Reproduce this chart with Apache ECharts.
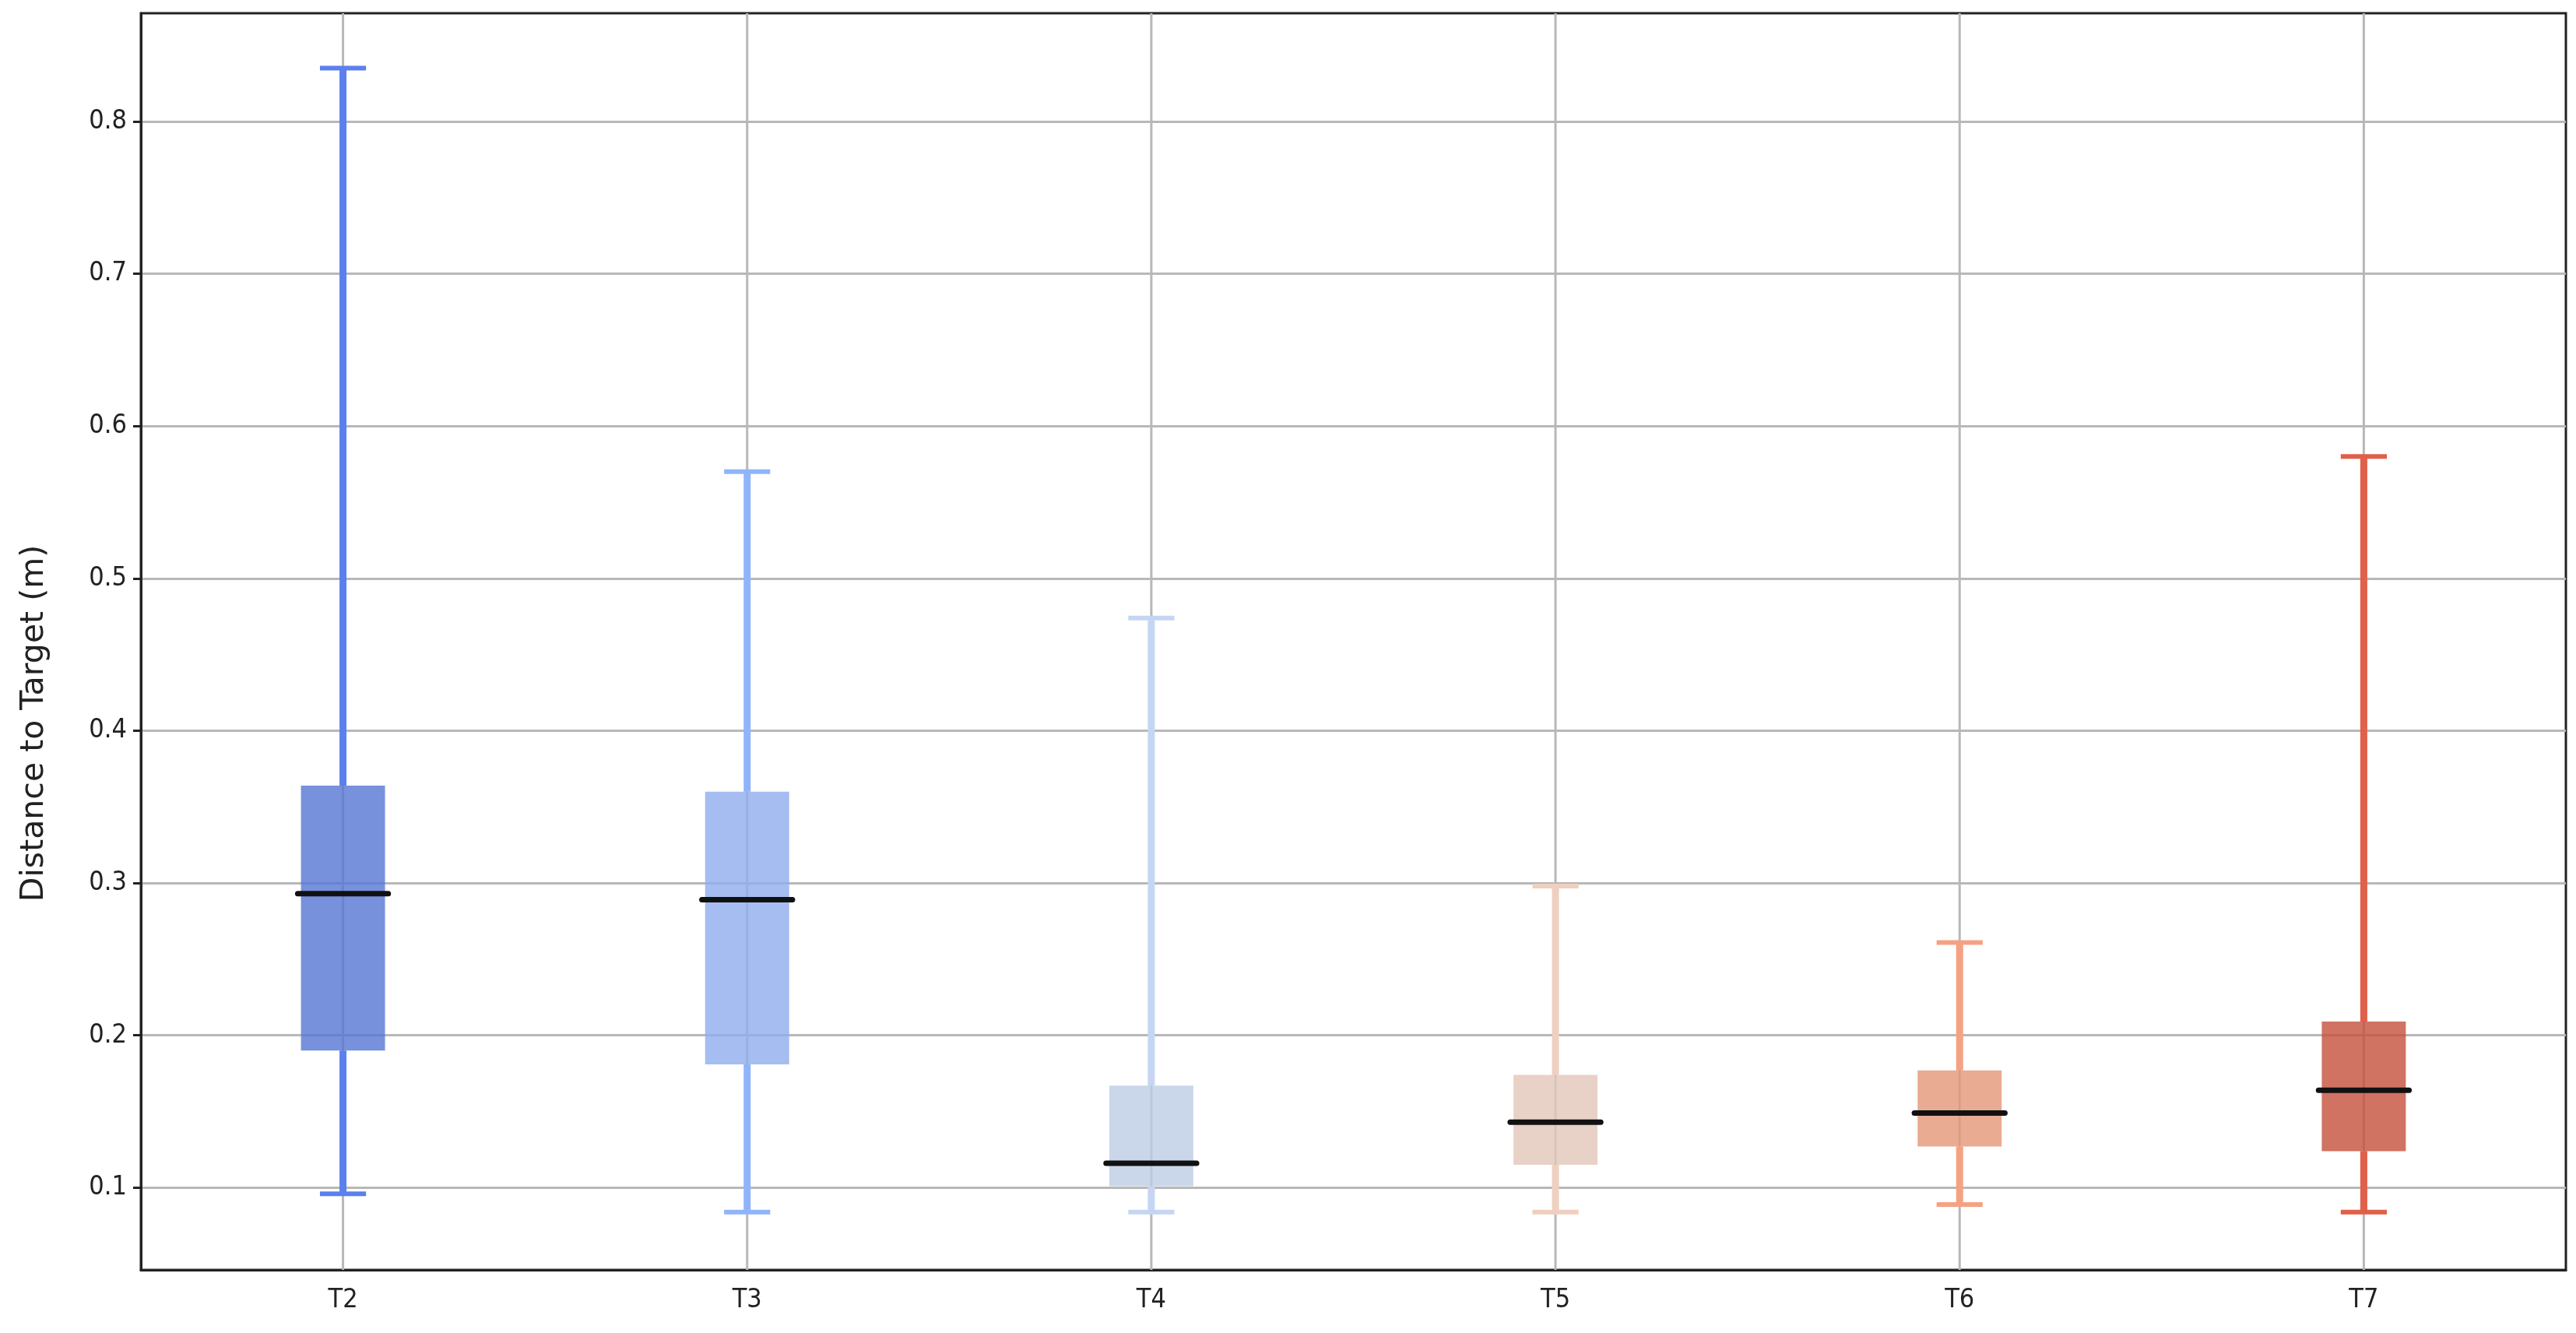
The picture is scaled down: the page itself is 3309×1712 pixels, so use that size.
<!DOCTYPE html>
<html>
<head>
<meta charset="utf-8">
<script src="https://cdn.jsdelivr.net/npm/echarts@6/dist/echarts.min.js"></script>
<style>
  html, body { margin: 0; padding: 0; background: #fff; }
  #chart { width: 3309px; height: 1712px; }
</style>
</head>
<body>
<div id="chart"></div>
<script>
// box plot values (distance to target, m)
const categories = ["T2", "T3", "T4", "T5", "T6", "T7"];
const whiskerLow = [0.096, 0.084, 0.084, 0.084, 0.089, 0.084];
const q1 = [0.190, 0.181, 0.101, 0.115, 0.127, 0.124];
const median = [0.293, 0.289, 0.116, 0.143, 0.149, 0.164];
const q3 = [0.364, 0.360, 0.167, 0.174, 0.177, 0.209];
const whiskerHigh = [0.835, 0.570, 0.474, 0.298, 0.261, 0.580];
const yTicks = [0.1, 0.2, 0.3, 0.4, 0.5, 0.6, 0.7, 0.8];

const whiskerColors = ["#5b80ee", "#8fb4fb", "#c5d6f2", "#efcfc0", "#f5a283", "#e0604a"];
const boxColors = [
  "rgba(86,118,211,0.8)",
  "rgba(143,173,238,0.8)",
  "rgba(189,205,229,0.8)",
  "rgba(226,198,184,0.8)",
  "rgba(228,150,118,0.8)",
  "rgba(196,80,60,0.8)",
];

const gridColor = "#b8b8b8";
const tickFont = "'DejaVu Sans Condensed', 'DejaVu Sans', sans-serif";

const data = categories.map((c, i) => [i, whiskerLow[i], q1[i], median[i], q3[i], whiskerHigh[i]]);

function renderBox(params, api) {
  const i = params.dataIndex;
  const x = api.value(0);
  const band = api.size([1, 0])[0];
  const cs = params.coordSys;
  const low = api.coord([x, api.value(1)]);
  const b1 = api.coord([x, api.value(2)]);
  const med = api.coord([x, api.value(3)]);
  const b3 = api.coord([x, api.value(4)]);
  const high = api.coord([x, api.value(5)]);
  const cx = low[0];
  const boxW = band * 0.208;
  const capW = band * 0.114;
  const medW = band * 0.224;
  const wc = whiskerColors[i];
  return {
    type: "group",
    children: [
      // vertical grid line at the category centre
      { type: "line", shape: { x1: cx, y1: cs.y, x2: cx, y2: cs.y + cs.height },
        style: { stroke: gridColor, lineWidth: 3 } },
      { type: "line", shape: { x1: cx, y1: low[1], x2: cx, y2: b1[1] },
        style: { stroke: wc, lineWidth: 9 } },
      { type: "line", shape: { x1: cx, y1: b3[1], x2: cx, y2: high[1] },
        style: { stroke: wc, lineWidth: 9 } },
      { type: "line", shape: { x1: cx - capW / 2, y1: low[1], x2: cx + capW / 2, y2: low[1] },
        style: { stroke: wc, lineWidth: 6 } },
      { type: "line", shape: { x1: cx - capW / 2, y1: high[1], x2: cx + capW / 2, y2: high[1] },
        style: { stroke: wc, lineWidth: 6 } },
      { type: "rect", shape: { x: cx - boxW / 2, y: b3[1], width: boxW, height: b1[1] - b3[1] },
        style: { fill: boxColors[i] } },
      { type: "line", shape: { x1: cx - medW / 2, y1: med[1], x2: cx + medW / 2, y2: med[1] },
        style: { stroke: "#111", lineWidth: 7, lineCap: "round" } },
    ],
  };
}

var myChart = echarts.init(document.getElementById("chart"), null, { renderer: "canvas" });
myChart.setOption({
  animation: false,
  backgroundColor: "#fff",
  grid: {
    left: 181,
    right: 13,
    top: 17,
    bottom: 81,
    show: true,
    borderColor: "#222",
    borderWidth: 3,
  },
  xAxis: {
    type: "category",
    data: categories,
    boundaryGap: true,
    axisLine: { lineStyle: { color: "#222", width: 3 } },
    axisTick: { alignWithLabel: true, length: 15, lineStyle: { color: "#222", width: 3 } },
    axisLabel: { color: "#222", fontSize: 34, fontFamily: tickFont, margin: 22 },
    splitLine: { show: false },
  },
  yAxis: {
    type: "value",
    min: 0.046,
    max: 0.871,
    splitNumber: 8,
    name: "Distance to Target (m)",
    nameLocation: "middle",
    nameGap: 116,
    nameTextStyle: {
      color: "#222",
      fontSize: 41,
      fontFamily: "'DejaVu Sans', sans-serif",
      padding: [0, 210, 0, 0],
    },
    axisLine: { show: true, lineStyle: { color: "#222", width: 3 } },
    axisTick: { show: true, length: 10, customValues: yTicks, lineStyle: { color: "#222", width: 3 } },
    axisLabel: {
      color: "#222",
      fontSize: 34,
      fontFamily: tickFont,
      margin: 18,
      customValues: yTicks,
      formatter: function (v) {
        const r = Math.round(v * 10);
        return Math.abs(v * 10 - r) < 1e-6 ? (r / 10).toFixed(1) : "";
      },
    },
    splitLine: { show: true, lineStyle: { color: gridColor, width: 3 } },
  },
  series: [
    {
      type: "custom",
      renderItem: renderBox,
      encode: { x: 0, y: [1, 2, 3, 4, 5] },
      data: data,
    },
  ],
});
</script>
</body>
</html>
